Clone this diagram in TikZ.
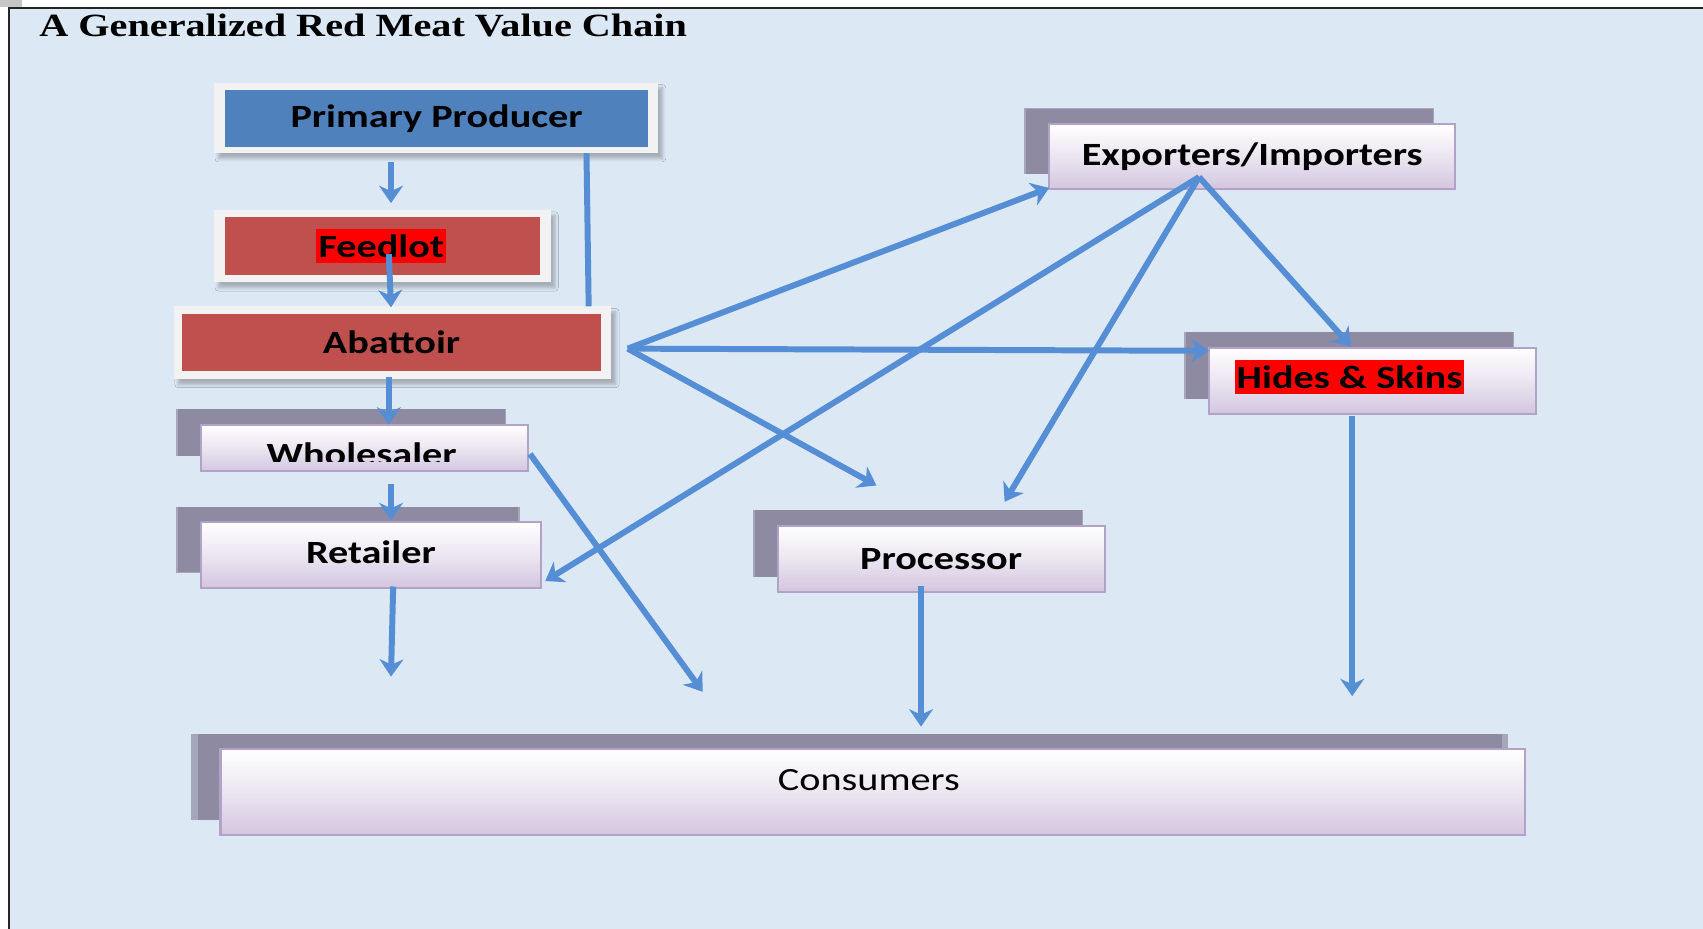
\documentclass[tikz,border=0pt]{standalone}
\usepackage{fontspec}
\newfontfamily\boxfont[FakeStretch=1.24]{Carlito}
\newfontfamily\titlefont[FakeStretch=1.24]{Liberation Serif}
\usetikzlibrary{arrows.meta,shadows,shadows.blur}
\definecolor{bg}{HTML}{DDE8F5}
\definecolor{arrowc}{HTML}{558ED5}
\definecolor{ppblue}{HTML}{4F81BD}
\definecolor{abred}{HTML}{C0504D}
\definecolor{framegray}{HTML}{F2F2F2}
\definecolor{shadowc}{HTML}{8E8AA2}
\definecolor{boxborder}{HTML}{B3A2C7}
\definecolor{boxbottom}{HTML}{D3C6DF}
\newcommand\upx{0.02cm}
\begin{document}
\begin{tikzpicture}[x=0.02cm,y=-0.02cm,
  boxtext/.style={font=\boxfont\bfseries\fontsize{17}{20}\selectfont, text=black},
  framebox/.style={fill=framegray, inner sep=0pt, outer sep=0pt,
    blur shadow={shadow xshift=4*\upx, shadow yshift=-5*\upx, shadow blur radius=3*\upx, shadow opacity=25}},
  innerbox/.style={boxtext, inner sep=0pt, outer sep=0pt},
  chainbox/.style={boxtext, inner sep=0pt, outer sep=0pt, draw=boxborder, line width=1.1pt,
    top color=white, bottom color=boxbottom, middle color=white!55!boxbottom,
    general shadow={fill=shadowc!70!bg, shadow xshift=-21*\upx, shadow yshift=14*\upx, shadow scale=1.01},
    general shadow={fill=shadowc, shadow xshift=-21*\upx, shadow yshift=14*\upx}},
  hilite/.style={boxtext, fill=red, inner xsep=2*\upx, inner ysep=0pt, minimum height=31*\upx},
  arr/.style={draw=arrowc, line width=5.5*\upx, -{Stealth[length=16*\upx, width=22*\upx, inset=5*\upx]}},
  plainline/.style={draw=arrowc, line width=5.5*\upx}
]
\useasboundingbox (0,0) rectangle (1568,855);
% background frame
\fill[bg] (8,7) rectangle (1568,855);
\fill[gray!45] (0,0) rectangle (20,6);
\draw[black!85, line width=1.8*\upx] (1568,7) -- (8,7) -- (8,855);
\node[anchor=base west, font=\titlefont\bfseries\fontsize{17}{20}\selectfont] (title) at (30,34) {A Generalized Red Meat Value Chain};

% framed boxes
\node[framebox, minimum width=409*\upx, minimum height=65*\upx] (ppf) at (401.5,108.5) {};
\node[innerbox, fill=ppblue, minimum width=390*\upx, minimum height=52*\upx] (pp) at (402,109) {Primary Producer};
\node[framebox, minimum width=310*\upx, minimum height=67*\upx] (flf) at (352,226.5) {};
\node[innerbox, fill=abred, minimum width=290*\upx, minimum height=53*\upx] (fl) at (352,226.5) {};
\node[hilite] (fltext) at (351,226.5) {Feedlot};
\node[framebox, minimum width=403*\upx, minimum height=67*\upx] (abf) at (361.5,315.5) {};
\node[innerbox, fill=abred, minimum width=385*\upx, minimum height=53*\upx] (ab) at (360.5,315.5) {Abattoir};

% chain boxes
\node[chainbox, minimum width=301*\upx, minimum height=43*\upx] (ws) at (335.5,412.5) {};
\begin{scope}
\clip (186,392) rectangle (485,425);
\node[boxtext, anchor=base] (wstext) at (333,429) {Wholesaler};
\end{scope}
\node[chainbox, minimum width=313*\upx, minimum height=60*\upx, text depth=5*\upx] (rt) at (341.5,511) {Retailer};
\node[chainbox, minimum width=374*\upx, minimum height=60*\upx, text depth=5*\upx] (ex) at (1153,144) {Exporters/Importers};
\node[chainbox, minimum width=301*\upx, minimum height=61*\upx] (hs) at (1263.5,350.5) {};
\node[hilite] (hstext) at (1242.5,347) {Hides \& Skins};
\node[chainbox, minimum width=301*\upx, minimum height=61*\upx] (pr) at (866.5,514.5) {Processor};
\node[chainbox, minimum width=1201*\upx, minimum height=79*\upx] (cs) at (803.5,729.5) {};
\node[font=\boxfont\fontsize{17}{20}\selectfont, inner sep=0pt] (cstext) at (800,718) {Consumers};

% connector end points
\coordinate (a1) at (360,149); \coordinate (a2) at (360,187);
\coordinate (b1) at (540,141); \coordinate (b2) at (542,282);
\coordinate (c1) at (358,234); \coordinate (c2) at (360,283);
\coordinate (d1) at (358,347); \coordinate (d2) at (358,391);
\coordinate (e1) at (360,446); \coordinate (e2) at (360,479);
\coordinate (f1) at (362,540); \coordinate (f2) at (360,623);
\coordinate (g1) at (488,418); \coordinate (g2) at (647,637);
\coordinate (abx) at (578,321);
\coordinate (h2) at (966,173);
\coordinate (i2) at (1113,323);
\coordinate (j2) at (807,447);
\coordinate (exx) at (1104,163);
\coordinate (k2) at (502,535);
\coordinate (l2) at (925,462);
\coordinate (m2) at (1244,319);
\coordinate (n1) at (848,540); \coordinate (n2) at (848,669);
\coordinate (o1) at (1245,383); \coordinate (o2) at (1245,641);

% connectors
\draw[arr] (a1) -- (a2);
\draw[plainline] (b1) -- (b2);
\draw[arr] (c1) -- (c2);
\draw[arr] (d1) -- (d2);
\draw[arr] (e1) -- (e2);
\draw[arr] (f1) -- (f2);
\draw[arr] (g1) -- (g2);
\draw[arr] (abx) -- (h2);
\draw[arr] (abx) -- (i2);
\draw[arr] (abx) -- (j2);
\draw[arr] (exx) -- (k2);
\draw[arr] (exx) -- (l2);
\draw[arr] (exx) -- (m2);
\draw[arr] (n1) -- (n2);
\draw[arr] (o1) -- (o2);
\end{tikzpicture}
\end{document}
